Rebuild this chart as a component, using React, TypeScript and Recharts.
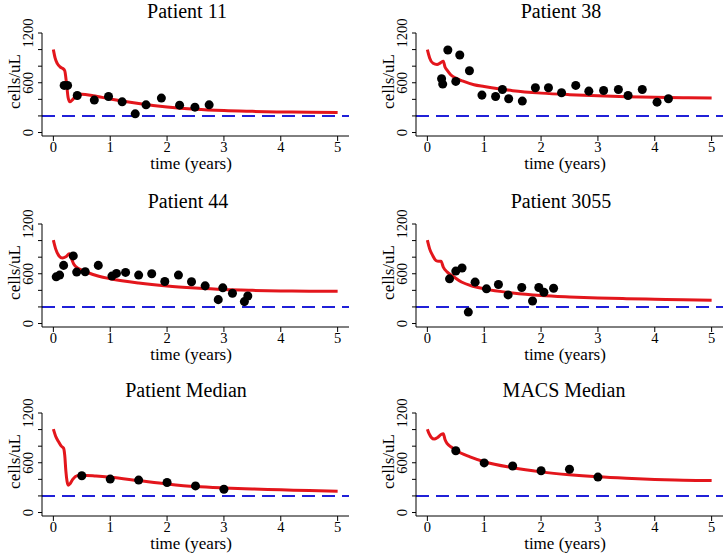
import React from "react";
import { ComposedChart, Line, Scatter, XAxis, YAxis, ReferenceLine } from "recharts";

const FONT = '"Liberation Serif", "Times New Roman", Times, serif';
const RED = "#e3161c";
const BLUE = "#2020d8";

const X_TICKS = [0, 1, 2, 3, 4, 5];
const Y_TICKS = [0, 200, 400, 600, 800, 1000, 1200];
const Y_LABELED = [0, 600, 1200];
const THRESHOLD = 200;

// observed counts [years, cells/uL]
const p11Obs = [
  [0.19, 568], [0.25, 568], [0.42, 447], [0.72, 391], [0.97, 435], [1.21, 370],
  [1.44, 225], [1.63, 334], [1.9, 415], [2.22, 330], [2.49, 306], [2.74, 334],
];
const p38Obs = [
  [0.25, 648], [0.27, 584], [0.36, 995], [0.5, 616], [0.57, 934], [0.74, 745],
  [0.96, 451], [1.2, 435], [1.32, 519], [1.43, 407], [1.67, 379], [1.9, 540],
  [2.13, 540], [2.36, 479], [2.61, 568], [2.84, 499], [3.1, 507], [3.36, 519],
  [3.53, 447], [3.78, 519], [4.04, 366], [4.24, 407],
];
const p44Obs = [
  [0.05, 563], [0.11, 584], [0.18, 701], [0.35, 815], [0.41, 620], [0.56, 624],
  [0.79, 701], [1.03, 572], [1.11, 604], [1.27, 616], [1.5, 584], [1.73, 600],
  [1.96, 507], [2.2, 584], [2.43, 503], [2.67, 454], [2.9, 288], [2.98, 430],
  [3.15, 365], [3.36, 264], [3.42, 332],
];
const p3055Obs = [
  [0.39, 539], [0.5, 632], [0.61, 669], [0.72, 138], [0.84, 499], [1.04, 418],
  [1.25, 470], [1.42, 345], [1.66, 434], [1.85, 272], [1.96, 434], [2.05, 377],
  [2.22, 426],
];
const patMedObs = [[0.5, 443], [1, 403], [1.5, 391], [2, 362], [2.5, 321], [3, 281]];
const macsMedObs = [[0.5, 744], [1, 598], [1.5, 561], [2, 504], [2.5, 521], [3, 427]];

// model fits
const p11Fit = [
  [0, 1000], [0.03, 900], [0.07, 830], [0.12, 790], [0.17, 770], [0.2, 745], [0.23, 600],
  [0.26, 420], [0.29, 370], [0.33, 390], [0.4, 440], [0.5, 460], [0.7, 443], [1, 405],
  [1.5, 350], [2, 308], [2.5, 280], [3, 264], [3.5, 255], [4, 248], [4.5, 244], [5, 240],
];
const p38Fit = [
  [0, 1000], [0.04, 900], [0.1, 835], [0.17, 820], [0.23, 840], [0.28, 860], [0.31, 790],
  [0.35, 750], [0.41, 697], [0.5, 656], [0.64, 616], [0.82, 576], [1, 555], [1.5, 505],
  [2, 475], [2.5, 456], [3, 442], [3.5, 432], [4, 424], [4.5, 419], [5, 415],
];
const p44Fit = [
  [0, 1005], [0.04, 900], [0.1, 815], [0.16, 790], [0.22, 805], [0.28, 840], [0.32, 780],
  [0.36, 715], [0.45, 660], [0.6, 615], [0.8, 570], [1, 540], [1.5, 488], [2, 452],
  [2.5, 428], [3, 410], [3.5, 400], [4, 393], [4.5, 390], [5, 388],
];
const p3055Fit = [
  [0, 1005], [0.04, 900], [0.09, 825], [0.15, 760], [0.2, 750], [0.24, 750], [0.28, 680],
  [0.35, 620], [0.45, 570], [0.6, 500], [0.8, 450], [1, 418], [1.5, 368], [2, 337],
  [2.5, 320], [3, 308], [3.5, 300], [4, 292], [4.5, 286], [5, 280],
];
const patMedFit = [
  [0, 1005], [0.04, 920], [0.09, 855], [0.14, 800], [0.18, 775], [0.2, 690], [0.22, 500],
  [0.24, 380], [0.26, 330], [0.29, 345], [0.34, 400], [0.42, 445], [0.5, 450], [0.75, 440],
  [1, 425], [1.5, 385], [2, 345], [2.5, 313], [3, 296], [3.5, 285], [4, 274], [4.5, 265],
  [5, 256],
];
const macsMedFit = [
  [0, 1005], [0.03, 950], [0.07, 905], [0.12, 885], [0.18, 905], [0.24, 940], [0.28, 950],
  [0.31, 880], [0.35, 830], [0.42, 790], [0.5, 750], [0.75, 670], [1, 612], [1.5, 540],
  [2, 490], [2.5, 455], [3, 430], [3.5, 412], [4, 398], [4.5, 390], [5, 385],
];

const toRows = (pts: number[][]) => pts.map(([t, v]) => ({ t, v }));

const XTick = (props: any) => (
  <text x={props.x} y={props.y} dy={11} textAnchor="middle" fontSize={14.5} fontFamily={FONT} fill="#000">
    {props.payload.value}
  </text>
);

const YTick = (props: any) => {
  if (!Y_LABELED.includes(props.payload.value)) return <g />;
  const bx = props.x - 5;
  return (
    <text
      x={bx}
      y={props.y}
      transform={`rotate(-90, ${bx}, ${props.y})`}
      textAnchor="middle"
      fontSize={14.5}
      fontFamily={FONT}
      fill="#000"
    >
      {props.payload.value}
    </text>
  );
};

interface PanelProps {
  title: string;
  obs: number[][];
  fit: number[][];
  left: number;
  top: number;
  yAxisW: number;
  mRight: number;
  mTop: number;
  xAxisH: number;
  titleX: number;
  titleY: number;
}

function Panel({ title, obs, fit, left, top, yAxisW, mRight, mTop, xAxisH, titleX, titleY }: PanelProps) {
  const W = 364;
  const H = 185;
  return (
    <div style={{ position: "absolute", left, top, width: W, height: H }}>
      <ComposedChart width={W} height={H} margin={{ top: mTop, right: mRight, bottom: 0, left: 0 }}>
        <XAxis
          type="number"
          dataKey="t"
          domain={[-0.2, 5.2]}
          ticks={X_TICKS}
          interval={0}
          allowDataOverflow
          height={xAxisH}
          tickSize={5}
          tickMargin={0}
          tick={<XTick />}
          axisLine={{ stroke: "#000", strokeWidth: 1 }}
          tickLine={{ stroke: "#000" }}
          label={{
            content: (p: any) => {
              const vb = p.viewBox;
              return (
                <text
                  x={vb.x + vb.width / 2 - 4.5}
                  y={vb.y + 33}
                  textAnchor="middle"
                  fontSize={17}
                  fontFamily={FONT}
                  fill="#000"
                >
                  time (years)
                </text>
              );
            },
          }}
        />
        <YAxis
          type="number"
          dataKey="v"
          domain={[-42, 1200]}
          ticks={Y_TICKS}
          interval={0}
          allowDataOverflow
          width={yAxisW}
          tickSize={4}
          tickMargin={0}
          tick={<YTick />}
          axisLine={{ stroke: "#000", strokeWidth: 1 }}
          tickLine={{ stroke: "#000" }}
          label={{
            content: (p: any) => {
              const vb = p.viewBox;
              const bx = vb.x + vb.width - 22.5;
              const cy = vb.y + vb.height / 2 - 3;
              return (
                <text
                  x={bx}
                  y={cy}
                  transform={`rotate(-90, ${bx}, ${cy})`}
                  textAnchor="middle"
                  fontSize={17}
                  fontFamily={FONT}
                  fill="#000"
                >
                  cells/uL
                </text>
              );
            },
          }}
        />
        <ReferenceLine y={THRESHOLD} stroke={BLUE} strokeWidth={2} strokeDasharray="13 7" />
        <Line
          data={toRows(fit)}
          dataKey="v"
          type="monotone"
          stroke={RED}
          strokeWidth={3}
          dot={false}
          activeDot={false}
          isAnimationActive={false}
        />
        <Scatter data={toRows(obs)} dataKey="v" fill="#000" isAnimationActive={false} />
      </ComposedChart>
      <div
        style={{
          position: "absolute",
          left: titleX - 150,
          width: 300,
          top: titleY - 16.75,
          lineHeight: "20px",
          fontSize: 20,
          fontFamily: FONT,
          textAlign: "center",
          color: "#000",
          whiteSpace: "nowrap",
        }}
      >
        {title}
      </div>
    </div>
  );
}

export default function App() {
  return (
    <div style={{ position: "absolute", left: 0, top: 0, width: 728, height: 555, background: "#fff" }}>
      <Panel title="Patient 11" obs={p11Obs} fit={p11Fit} left={0} top={0} yAxisW={42} mRight={15} mTop={33} xAxisH={49} titleX={187} titleY={17.5} />
      <Panel title="Patient 38" obs={p38Obs} fit={p38Fit} left={364} top={0} yAxisW={52} mRight={5} mTop={33} xAxisH={49} titleX={197} titleY={17.5} />
      <Panel title="Patient 44" obs={p44Obs} fit={p44Fit} left={0} top={185} yAxisW={42} mRight={15} mTop={39} xAxisH={43} titleX={188} titleY={22.5} />
      <Panel title="Patient 3055" obs={p3055Obs} fit={p3055Fit} left={364} top={185} yAxisW={52} mRight={5} mTop={39} xAxisH={43} titleX={197} titleY={22.5} />
      <Panel title="Patient Median" obs={patMedObs} fit={patMedFit} left={0} top={370} yAxisW={42} mRight={15} mTop={43} xAxisH={39} titleX={186} titleY={27} />
      <Panel title="MACS Median" obs={macsMedObs} fit={macsMedFit} left={364} top={370} yAxisW={52} mRight={5} mTop={43} xAxisH={39} titleX={200} titleY={26.5} />
    </div>
  );
}
